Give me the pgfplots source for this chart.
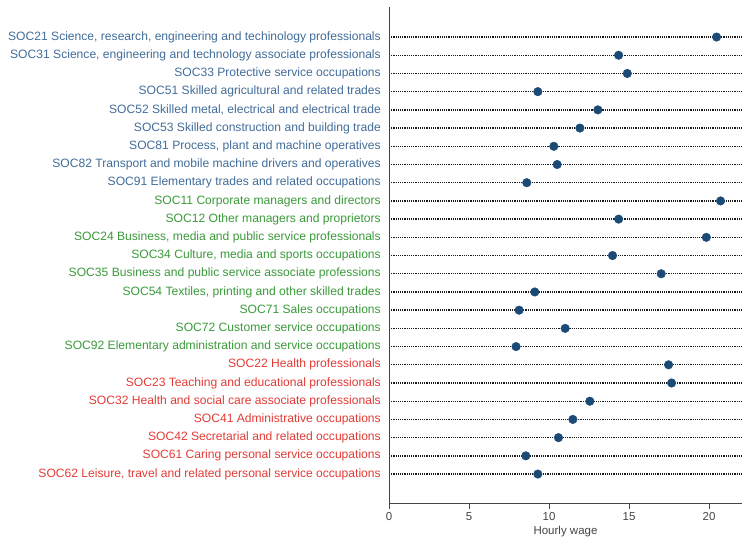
\documentclass[border=0pt]{standalone}
\usepackage{fontspec}
\setmainfont{Liberation Sans}
\usepackage{pgfplots}
\pgfplotsset{compat=1.18}
\definecolor{dotc}{HTML}{1B4A76}
\definecolor{sblue}{HTML}{416C99}
\definecolor{sgreen}{HTML}{3A9A3A}
\definecolor{sred}{HTML}{E23B36}
\definecolor{axc}{HTML}{444444}
\begin{document}
\begin{tikzpicture}
\path (0,0) rectangle (743pt,540pt);
\begin{axis}[
 at={(389pt,37pt)}, anchor=south west,
 scale only axis, width=353pt, height=496pt,
 xmin=0, xmax=22.06, ymin=-0.59, ymax=26.65,
 axis x line*=bottom, axis y line*=left,
 axis line style={axc, line width=0.9pt, -},
 xtick={0,5,10,15,20},
 ytick={1,...,25},
 y tick style={draw=none},
 major y tick style={draw=none},
 x tick style={axc, line width=0.8pt},
 xtick align=outside,
 major tick length=6pt,
 /pgf/number format/assume math mode=true,
 x tick label style={font=\fontsize{11.5}{13}\selectfont, text=axc},
 y tick label style={font=\fontsize{12.1}{13}\selectfont, inner sep=0pt, xshift=-8pt},
 xlabel={Hourly wage},
 xlabel style={font=\fontsize{11.5}{13}\selectfont, text=axc, yshift=1pt},
 ymajorgrids,
 y grid style={black!90, line width=1.4pt, dash pattern=on 1.1pt off 1.1pt},
 yticklabels={
 {\color{sred}SOC62 Leisure, travel and related personal service occupations},
 {\color{sred}SOC61 Caring personal service occupations},
 {\color{sred}SOC42 Secretarial and related occupations\ },
 {\color{sred}SOC41 Administrative occupations},
 {\color{sred}SOC32 Health and social care associate professionals},
 {\color{sred}SOC23 Teaching and educational professionals},
 {\color{sred}SOC22 Health professionals},
 {\color{sgreen}SOC92 Elementary administration and service occupations},
 {\color{sgreen}SOC72 Customer service occupations},
 {\color{sgreen}SOC71 Sales occupations},
 {\color{sgreen}SOC54 Textiles, printing and other skilled trades\ },
 {\color{sgreen}SOC35 Business and public service associate professions},
 {\color{sgreen}SOC34 Culture, media and sports occupations\ },
 {\color{sgreen}SOC24 Business, media and public service professionals\ },
 {\color{sgreen}SOC12 Other managers and proprietors},
 {\color{sgreen}SOC11 Corporate managers and directors},
 {\color{sblue}SOC91 Elementary trades and related occupations},
 {\color{sblue}SOC82 Transport and mobile machine drivers and operatives\ },
 {\color{sblue}SOC81 Process, plant and machine operatives\ },
 {\color{sblue}SOC53 Skilled construction and building trade},
 {\color{sblue}SOC52 Skilled metal, electrical and electrical trade},
 {\color{sblue}SOC51 Skilled agricultural and related trades},
 {\color{sblue}SOC33 Protective service occupations\ },
 {\color{sblue}SOC31 Science, engineering and technology associate professionals},
 {\color{sblue}SOC21 Science, research, engineering and techinology professionals}
 },
 clip=false,
]
\addplot[only marks, mark=*, mark size=4.3pt, color=dotc] coordinates {
 (20.47,25) (14.35,24) (14.89,23) (9.30,22) (13.05,21) (11.93,20) (10.30,19) (10.51,18) (8.61,17)
 (20.72,16) (14.35,15) (19.83,14) (13.97,13) (17.01,12) (9.11,11) (8.13,10) (11.01,9) (7.94,8)
 (17.47,7) (17.66,6) (12.55,5) (11.49,4) (10.59,3) (8.55,2) (9.30,1)
};
\end{axis}
\end{tikzpicture}
\end{document}
